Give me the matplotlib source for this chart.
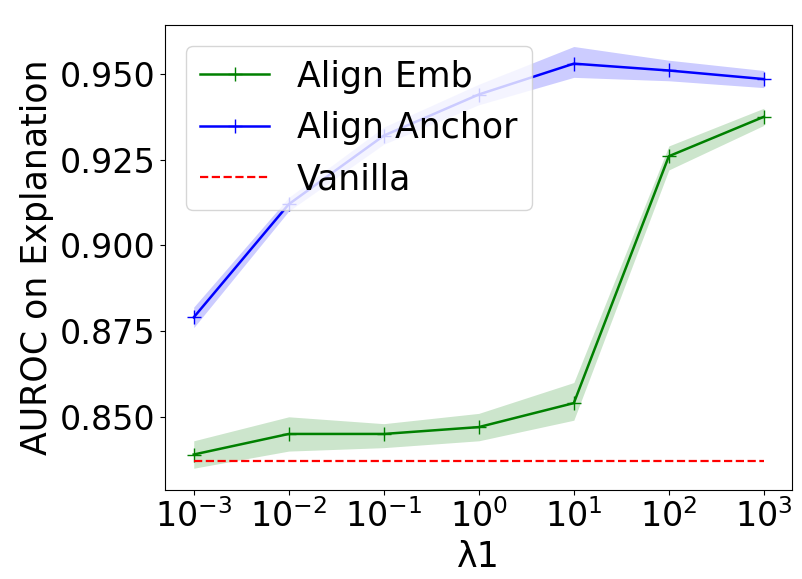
"""AUROC on explanation vs lambda1."""

import matplotlib

matplotlib.use("Agg")

import matplotlib.pyplot as plt
import numpy as np

LAMBDAS = [1e-3, 1e-2, 1e-1, 1e0, 1e1, 1e2, 1e3]

EMB_MEAN = [0.839, 0.845, 0.845, 0.847, 0.854, 0.926, 0.9375]
EMB_LOW = [0.835, 0.840, 0.841, 0.843, 0.849, 0.922, 0.935]
EMB_HIGH = [0.843, 0.850, 0.848, 0.851, 0.860, 0.929, 0.940]

ANCHOR_MEAN = [0.879, 0.912, 0.932, 0.944, 0.953, 0.951, 0.9485]
ANCHOR_LOW = [0.876, 0.910, 0.9295, 0.941, 0.949, 0.948, 0.946]
ANCHOR_HIGH = [0.882, 0.914, 0.9345, 0.947, 0.958, 0.954, 0.951]

VANILLA = 0.837

plt.rcParams["font.size"] = 24

fig = plt.figure(figsize=(8.02, 5.79), dpi=100)
ax = fig.add_axes([0.206, 0.154, 0.782, 0.803])

ax.plot(LAMBDAS, EMB_MEAN, color="green", marker="+", markersize=10,
        linewidth=1.8, label="Align Emb")
ax.fill_between(LAMBDAS, EMB_LOW, EMB_HIGH, color="green", alpha=0.2, linewidth=0)
ax.plot(LAMBDAS, ANCHOR_MEAN, color="blue", marker="+", markersize=10,
        linewidth=1.8, label="Align Anchor")
ax.fill_between(LAMBDAS, ANCHOR_LOW, ANCHOR_HIGH, color="blue", alpha=0.2, linewidth=0)
ax.plot(LAMBDAS, np.full(len(LAMBDAS), VANILLA), color="red", linestyle="--",
        linewidth=1.6, label="Vanilla")

ax.set_xscale("log")
ax.set_xticks(LAMBDAS)
ax.set_ylim(0.8287, 0.9643)
ax.set_yticks([0.850, 0.875, 0.900, 0.925, 0.950])
ax.set_yticklabels(["0.850", "0.875", "0.900", "0.925", "0.950"])
ax.set_xlabel("λ1", fontsize=25)
ax.set_ylabel("AUROC on Explanation", fontsize=25)
ax.legend(loc="upper left", fontsize=25, borderaxespad=0.6)

fig.savefig("out.png", dpi=100)
